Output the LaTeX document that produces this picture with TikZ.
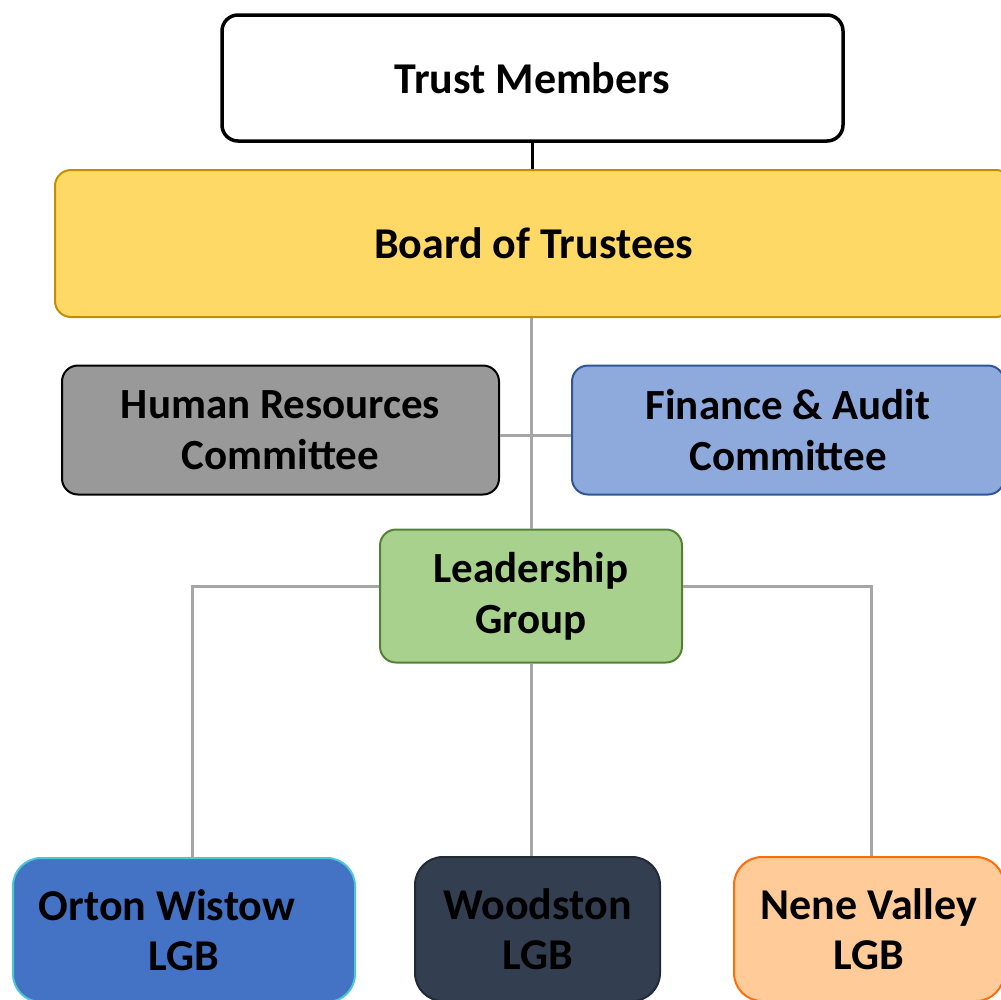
\documentclass[tikz,border=0pt]{standalone}
\usepackage{fontspec}
\setmainfont{Carlito}
\usetikzlibrary{positioning, calc}
\definecolor{boardfill}{HTML}{FFD966}
\definecolor{boarddraw}{HTML}{BF9000}
\definecolor{hrfill}{HTML}{999999}
\definecolor{fafill}{HTML}{8EA9DB}
\definecolor{fadraw}{HTML}{2F5597}
\definecolor{lgfill}{HTML}{A9D18E}
\definecolor{lgdraw}{HTML}{548235}
\definecolor{owfill}{HTML}{4472C4}
\definecolor{owdraw}{HTML}{4BC8D4}
\definecolor{wdfill}{HTML}{333F50}
\definecolor{wddraw}{HTML}{222A35}
\definecolor{nvfill}{HTML}{FFCC99}
\definecolor{nvdraw}{HTML}{FF6D0A}
\definecolor{linkgray}{HTML}{A6A6A6}

\begin{document}
\begin{tikzpicture}[x=1pt,y=-1pt,
  box/.style={rounded corners=16pt, draw, line width=2pt, align=center, inner sep=0pt,
    font=\bfseries\fontsize{43}{51}\selectfont},
  topbox/.style={box, font=\bfseries\fontsize{44}{51}\selectfont},
  lgbbox/.style={box, rounded corners=28pt, font=\bfseries\fontsize{44}{50}\selectfont},
  link/.style={linkgray, line width=3pt}]
\useasboundingbox (0,0) rectangle (1001,999);
\clip (0,0) rectangle (1001,999);
\node[topbox, line width=3.5pt, fill=white, minimum width=621pt, minimum height=126pt] (tm) at (532.5,78) {Trust Members};
\node[topbox, fill=boardfill, draw=boarddraw, minimum width=957pt, minimum height=147pt] (bot) at (533.5,243.5) {Board of Trustees};
\node[box, fill=hrfill, draw=black, minimum width=437pt, minimum height=129pt] (hr) at (280.5,430) {Human Resources\\Committee};
\node[box, fill=fafill, draw=fadraw, minimum width=432pt, minimum height=129pt] (fa) at (788,430) {Finance \& Audit\\Committee};
\node[box, fill=lgfill, draw=lgdraw, minimum width=302pt, minimum height=133pt] (lg) at (531,596) {Leadership\\Group};
\node[lgbbox, fill=owfill, draw=owdraw, minimum width=342pt, minimum height=144pt] (ow) at (184,930) {Orton Wistow\hspace*{34pt}\\LGB};
\node[lgbbox, fill=wdfill, draw=wddraw, minimum width=245pt, minimum height=144pt] (wd) at (537.5,929) {Woodston\\LGB};
\node[lgbbox, fill=nvfill, draw=nvdraw, minimum width=270pt, minimum height=144pt] (nv) at (869,929) {Nene Valley\\LGB};
\draw[black, line width=3.5pt] (tm.south) -- (tm.south |- bot.north);
\draw[link] (lg.north) -- (lg.north |- bot.south);
\draw[link] ([yshift=-5pt]hr.east) -- ([yshift=-5pt]fa.west);
\draw[link] ([yshift=10pt]lg.west) -| ([xshift=8pt]ow.north);
\draw[link] (lg.south) -- (lg.south |- wd.north);
\draw[link] ([yshift=10pt]lg.east) -| ([xshift=2pt]nv.north);
\end{tikzpicture}
\end{document}
